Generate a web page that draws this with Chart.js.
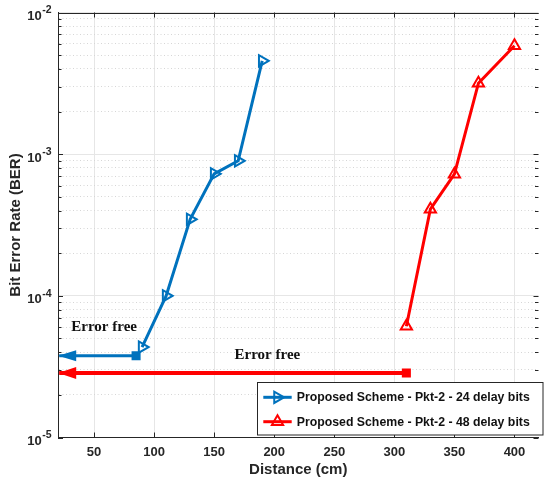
<!DOCTYPE html>
<html>
<head>
<meta charset="utf-8">
<script src="https://cdn.jsdelivr.net/npm/chart.js"></script>
<style>
  html, body { margin: 0; padding: 0; background: #fff; overflow: hidden; }
</style>
</head>
<body>
<canvas id="grafico" width="547" height="481"></canvas>
<script>
// datos
const xTicks = [50, 100, 150, 200, 250, 300, 350, 400]
const yDecades = [-5, -4, -3, -2]
const dist24 = [90, 110, 130, 150, 170, 190]
const ber24 = [4.35e-5, 1.0e-4, 3.47e-4, 7.26e-4, 8.97e-4, 4.56e-3]
const dist48 = [310, 330, 350, 370, 400]
const ber48 = [6.1e-5, 4.09e-4, 7.22e-4, 3.17e-3, 5.82e-3]
const free24X = [85, 21]
const free24Y = 3.78e-5
const free48X = [310, 21]
const free48Y = 2.85e-5
const seriesLabels = ['Proposed Scheme - Pkt-2 - 24 delay bits', 'Proposed Scheme - Pkt-2 - 48 delay bits']
const noteText = ['Error free', 'Error free']
const noteX = [58.4, 194.3]
const noteY = [6.0e-5, 3.83e-5]

const BLUE = '#0072BD'
const RED = '#FF0000'
const AXIS = '#262626'

const isMajor = (v) => Math.abs(Math.log10(v) - Math.round(Math.log10(v))) < 1e-6

const pts = (xs, ys) => xs.map((x, i) => ({ x, y: Array.isArray(ys) ? ys[i] : ys }))

const triangle = (ctx, x, y, r, rotDeg) => {
  let rad = rotDeg * Math.PI / 180
  ctx.beginPath()
  for (let k = 0; k < 3; k++) {
    const px = x + Math.sin(rad) * r
    const py = y - Math.cos(rad) * r
    if (k === 0) ctx.moveTo(px, py)
    else ctx.lineTo(px, py)
    rad += 2 * Math.PI / 3
  }
  ctx.closePath()
}

const extras = {
  id: 'extras',
  afterDatasetsDraw(chart) {
    const ctx = chart.ctx
    // puntas de flecha
    ;[[1, BLUE, 5.5], [3, RED, 6]].forEach(([idx, color, hw]) => {
      const meta = chart.getDatasetMeta(idx)
      const p = meta.data[meta.data.length - 1]
      ctx.save()
      ctx.fillStyle = color
      ctx.beginPath()
      ctx.moveTo(p.x - 1, p.y)
      ctx.lineTo(p.x + 17, p.y - hw)
      ctx.lineTo(p.x + 17, p.y + hw)
      ctx.closePath()
      ctx.fill()
      ctx.restore()
    })
  },
  afterDraw(chart) {
    const ctx = chart.ctx
    const { left, right, top, bottom } = chart.chartArea
    const xs = chart.scales.x
    const ys = chart.scales.y
    ctx.save()
    ctx.strokeStyle = AXIS
    ctx.lineWidth = 1
    // borde superior
    ctx.beginPath()
    ctx.moveTo(left, Math.round(top) + 0.5)
    ctx.lineTo(right, Math.round(top) + 0.5)
    ctx.stroke()
    // marcas hacia dentro
    ctx.beginPath()
    xTicks.forEach((v) => {
      const px = Math.round(xs.getPixelForValue(v)) + 0.5
      ctx.moveTo(px, bottom); ctx.lineTo(px, bottom - 5)
      ctx.moveTo(px, top); ctx.lineTo(px, top + 5)
    })
    ys.ticks.forEach((t) => {
      const py = Math.round(ys.getPixelForValue(t.value)) + 0.5
      const len = isMajor(t.value) ? 5 : 3.5
      ctx.moveTo(left, py); ctx.lineTo(left + len, py)
      ctx.moveTo(right, py); ctx.lineTo(right - len, py)
    })
    ctx.stroke()

    // etiquetas del eje y: 10 con exponente
    ctx.fillStyle = AXIS
    yDecades.forEach((d) => {
      const py = ys.getPixelForValue(Math.pow(10, d))
      ctx.font = 'bold 13px "Liberation Sans", Arial, sans-serif'
      ctx.textAlign = 'right'
      ctx.textBaseline = 'alphabetic'
      ctx.fillText('10', 41.7, py + 7.4)
      ctx.font = 'bold 10.5px "Liberation Sans", Arial, sans-serif'
      ctx.textAlign = 'left'
      ctx.fillText(String(d), 42.3, py + 0.9)
    })

    // textos "Error free"
    ctx.fillStyle = '#111'
    ctx.font = 'bold 15px "Liberation Serif", "Times New Roman", serif'
    ctx.textAlign = 'center'
    ctx.textBaseline = 'middle'
    noteText.forEach((txt, i) => {
      ctx.fillText(txt, xs.getPixelForValue(noteX[i]), ys.getPixelForValue(noteY[i]))
    })

    // leyenda
    const bx = 257.5, by = 382.5, bw = 285.5, bh = 52.5
    ctx.fillStyle = '#fff'
    ctx.fillRect(bx, by, bw, bh)
    ctx.strokeStyle = AXIS
    ctx.lineWidth = 1
    ctx.strokeRect(bx, by, bw, bh)
    const rows = [[397.3, BLUE, 90], [421.7, RED, 0]]
    rows.forEach(([ry, color, rot], i) => {
      ctx.strokeStyle = color
      ctx.lineWidth = 3
      ctx.beginPath()
      ctx.moveTo(263.3, ry); ctx.lineTo(291.7, ry)
      ctx.stroke()
      ctx.lineWidth = 2
      triangle(ctx, 277.5, ry, 6.5, rot)
      ctx.stroke()
      ctx.fillStyle = '#111'
      ctx.font = 'bold 12.3px "Liberation Sans", Arial, sans-serif'
      ctx.textAlign = 'left'
      ctx.textBaseline = 'middle'
      ctx.fillText(seriesLabels[i], 296.7, ry + 0.5)
    })
    ctx.restore()
  }
}

const canvas = document.getElementById('grafico')

const chartBer = new Chart(canvas, {
  type: 'line',
  data: {
    datasets: [
      {
        label: seriesLabels[0],
        data: pts(dist24, ber24),
        borderColor: BLUE,
        borderWidth: 3,
        tension: 0,
        pointStyle: 'triangle',
        pointRotation: 90,
        pointRadius: 6.5,
        pointBorderWidth: 2,
        pointBorderColor: BLUE,
        pointBackgroundColor: 'rgba(255,255,255,0)',
      },
      {
        label: 'free24',
        data: pts(free24X, free24Y),
        borderColor: BLUE,
        borderWidth: 3,
        pointStyle: 'rect',
        pointRadius: [6.4, 0],
        pointBorderWidth: 0,
        pointBackgroundColor: BLUE,
      },
      {
        label: seriesLabels[1],
        data: pts(dist48, ber48),
        borderColor: RED,
        borderWidth: 3,
        tension: 0,
        pointStyle: 'triangle',
        pointRadius: 6.5,
        pointBorderWidth: 2,
        pointBorderColor: RED,
        pointBackgroundColor: 'rgba(255,255,255,0)',
      },
      {
        label: 'free48',
        data: pts(free48X, free48Y),
        borderColor: RED,
        borderWidth: 4,
        pointStyle: 'rect',
        pointRadius: [6.4, 0],
        pointBorderWidth: 0,
        pointBackgroundColor: RED,
      },
    ],
  },
  options: {
    responsive: false,
    animation: false,
    devicePixelRatio: 1,
    events: [],
    layout: { padding: { top: 12.5, right: 0, bottom: 0, left: 0 } },
    plugins: {
      legend: { display: false },
      tooltip: { enabled: false },
    },
    scales: {
      x: {
        type: 'linear',
        min: 20,
        max: 420,
        afterBuildTicks: (scale) => { scale.ticks = xTicks.map((v) => ({ value: v })) },
        afterFit: (scale) => { scale.height = 43.5 },
        grid: { color: '#e6e6e6', lineWidth: 1, drawTicks: false },
        border: { color: AXIS, width: 1 },
        ticks: {
          color: AXIS,
          padding: 7,
          maxRotation: 0,
          font: { family: '"Liberation Sans", Arial, sans-serif', size: 13, weight: 'bold' },
        },
        title: {
          display: true,
          text: 'Distance (cm)',
          color: AXIS,
          padding: { top: 0, bottom: 2 },
          font: { family: '"Liberation Sans", Arial, sans-serif', size: 15, weight: 'bold' },
        },
      },
      y: {
        type: 'logarithmic',
        min: 1e-5,
        max: 1e-2,
        afterBuildTicks: (scale) => {
          const t = []
          yDecades.forEach((d) => {
            if (d === yDecades[yDecades.length - 1]) {
              t.push({ value: Math.pow(10, d) })
              return
            }
            for (let m = 1; m <= 9; m++) t.push({ value: m * Math.pow(10, d) })
          })
          scale.ticks = t
        },
        afterFit: (scale) => { scale.width = 58 },
        grid: {
          drawTicks: false,
          lineWidth: 1,
          color: (c) => (c.tick && !isMajor(c.tick.value) ? '#d6d6d6' : '#e6e6e6'),
        },
        border: {
          color: AXIS,
          width: 1,
          dash: (c) => (c.tick && !isMajor(c.tick.value) ? [1, 2.5] : []),
        },
        ticks: { display: false },
        title: {
          display: true,
          text: 'Bit Error Rate (BER)',
          color: AXIS,
          padding: { top: 7, bottom: 0 },
          font: { family: '"Liberation Sans", Arial, sans-serif', size: 15, weight: 'bold' },
        },
      },
    },
  },
  plugins: [extras],
})
</script>
</body>
</html>
